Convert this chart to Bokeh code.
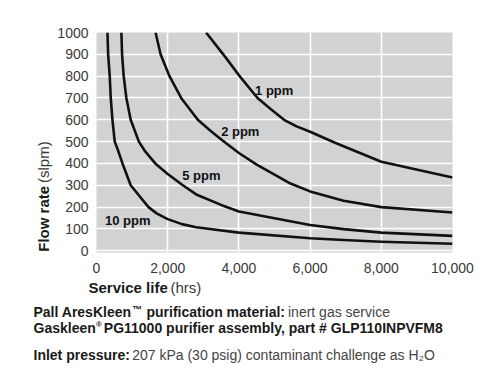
import numpy as np
from bokeh.plotting import figure
from bokeh.layouts import column, row
from bokeh.models import Range1d, FixedTicker, NumeralTickFormatter, Label
from bokeh.embed import file_html
from bokeh.resources import INLINE

# ---- data ----
x_ticks = [0, 2000, 4000, 6000, 8000, 10000]
y_ticks = [0, 100, 200, 300, 400, 500, 600, 700, 800, 900, 1000]

ppm1_hrs = [3077, 3560, 4020, 4523, 4900, 5267, 5620, 6000, 6700, 8000, 10000]
ppm1_flow = [1000, 900, 800, 700, 648, 600, 570, 545, 495, 408, 336]

ppm2_hrs = [1659, 1800, 2050, 2378, 2845, 3217, 3540, 4000, 4500, 5450, 6000, 6940, 8000, 10000]
ppm2_flow = [1000, 900, 800, 700, 600, 548, 505, 448, 395, 308, 272, 229, 200, 175]

ppm5_hrs = [699, 718, 764, 839, 960, 1190, 1351, 1650, 2000, 2425, 2800, 3500, 4000, 6000, 6940, 8000, 10000]
ppm5_flow = [1000, 900, 800, 700, 600, 500, 459, 400, 352, 300, 258, 210, 180, 118, 99, 83, 68]

ppm10_hrs = [308, 327, 372, 400, 448, 512, 607, 730, 960, 1460, 1700, 2000, 2400, 2800, 4000, 6000, 6940, 8000, 10000]
ppm10_flow = [1000, 900, 800, 700, 600, 500, 459, 400, 300, 200, 170, 145, 122, 108, 83, 57, 49, 41, 32]

curve_names = ["1 ppm", "2 ppm", "5 ppm", "10 ppm"]

FONT = "Liberation Sans"

# ---- main chart ----
LW = 54                       # width of the left strip holding the y title
MW, MH = 446, 280
ML, MR, MT, MB = 41, 48, 32, 28
X0, X1 = 0, 10000
Y0, Y1 = -8, 1000
FW, FH = MW - ML - MR, MH - MT - MB

p = figure(width=MW, height=MH, x_range=Range1d(X0, X1), y_range=Range1d(Y0, Y1),
           output_backend="svg", toolbar_location=None,
           min_border_left=ML, min_border_right=MR, min_border_top=MT, min_border_bottom=MB,
           background_fill_color="#d1d2d4", border_fill_color="white", outline_line_color=None)

p.xaxis.ticker = FixedTicker(ticks=x_ticks)
p.yaxis.ticker = FixedTicker(ticks=y_ticks)
p.xaxis.formatter = NumeralTickFormatter(format="0,0")
for ax in (p.xaxis, p.yaxis):
    ax.axis_line_color = None
    ax.major_tick_line_color = None
    ax.minor_tick_line_color = None
    ax.major_tick_out = 0
    ax.major_tick_in = 0
    ax.minor_tick_out = 0
    ax.major_label_text_font = FONT
    ax.major_label_text_font_size = "14px"
    ax.major_label_text_color = "#3a3a3a"
p.xaxis.major_label_standoff = 10
p.yaxis.major_label_standoff = 8

p.grid.grid_line_color = "white"
p.grid.grid_line_width = 1.6
p.xgrid.ticker = FixedTicker(ticks=x_ticks)
p.ygrid.ticker = FixedTicker(ticks=y_ticks)

for xs, ys in [(ppm1_hrs, ppm1_flow), (ppm2_hrs, ppm2_flow), (ppm5_hrs, ppm5_flow), (ppm10_hrs, ppm10_flow)]:
    p.line(xs, ys, line_color="#111111", line_width=2.6, line_join="round")


def text(fig, txt, x, y, size="14px", bold=False, color="#222222", angle=0.0):
    fig.add_layout(Label(x=x, y=y, text=txt, text_font=FONT, text_font_size=size,
                         text_font_style="bold" if bold else "normal", text_color=color,
                         text_align="left", text_baseline="middle", angle=angle))


# curve labels: page pixel -> data of main chart
def dx(px):
    return X0 + (px - LW - ML) / FW * (X1 - X0)


def dy(py):
    return Y1 - (py - MT) / FH * (Y1 - Y0)


label_pos = [(254, 90), (220, 130.5), (181, 174.5), (103.5, 220)]
for name, (lx, ly) in zip(curve_names, label_pos):
    text(p, name, dx(lx), dy(ly), size="13px", bold=True, color="#111111")


# ---- text strips (frames in page pixel coordinates) ----
def strip(w, h, y_top):
    return figure(width=w, height=h, x_range=Range1d(0, w), y_range=Range1d(y_top + h, y_top),
                  x_axis_type=None, y_axis_type=None, output_backend="svg", toolbar_location=None,
                  min_border=0, outline_line_color=None, background_fill_color="white",
                  border_fill_color="white", title=None)


# rotated title; anchors kept inside the strip and compensated for the rotated text box
left = strip(LW, MH, 0)
text(left, "Flow rate", 43, 279, size="15px", bold=True, color="#1a1a1a", angle=np.pi / 2)
text(left, "(slpm)", 43, 191.5, size="15px", color="#3a3a3a", angle=np.pi / 2)

foot = strip(LW + MW, 389 - MH, MH)
text(foot, "Service life", 88, 287, size="15px", bold=True, color="#1a1a1a")
text(foot, "(hrs)", 170, 287, size="15px", color="#3a3a3a")
text(foot, "Pall AresKleen", 33, 311.5, bold=True, color="#1a1a1a")
text(foot, "\u2122", 131.5, 309, size="10px", bold=True, color="#1a1a1a")
text(foot, "purification material:", 146, 311.5, bold=True, color="#1a1a1a")
text(foot, "inert gas service", 287.5, 311.5, color="#444444")
text(foot, "Gaskleen", 33, 327.5, bold=True, color="#1a1a1a")
text(foot, "\u00ae", 95.5, 324, size="8px", bold=True, color="#1a1a1a")
text(foot, "PG11000 purifier assembly, part # GLP110INPVFM8", 103.3, 327.5, bold=True, color="#1a1a1a")
text(foot, "Inlet pressure:", 33, 354, bold=True, color="#1a1a1a")
text(foot, "207 kPa (30 psig) contaminant challenge as H\u2082O", 131.7, 354, color="#444444")

layout = column(row(left, p, spacing=0), foot, spacing=0)

open("out.html", "w").write(file_html(layout, INLINE))
